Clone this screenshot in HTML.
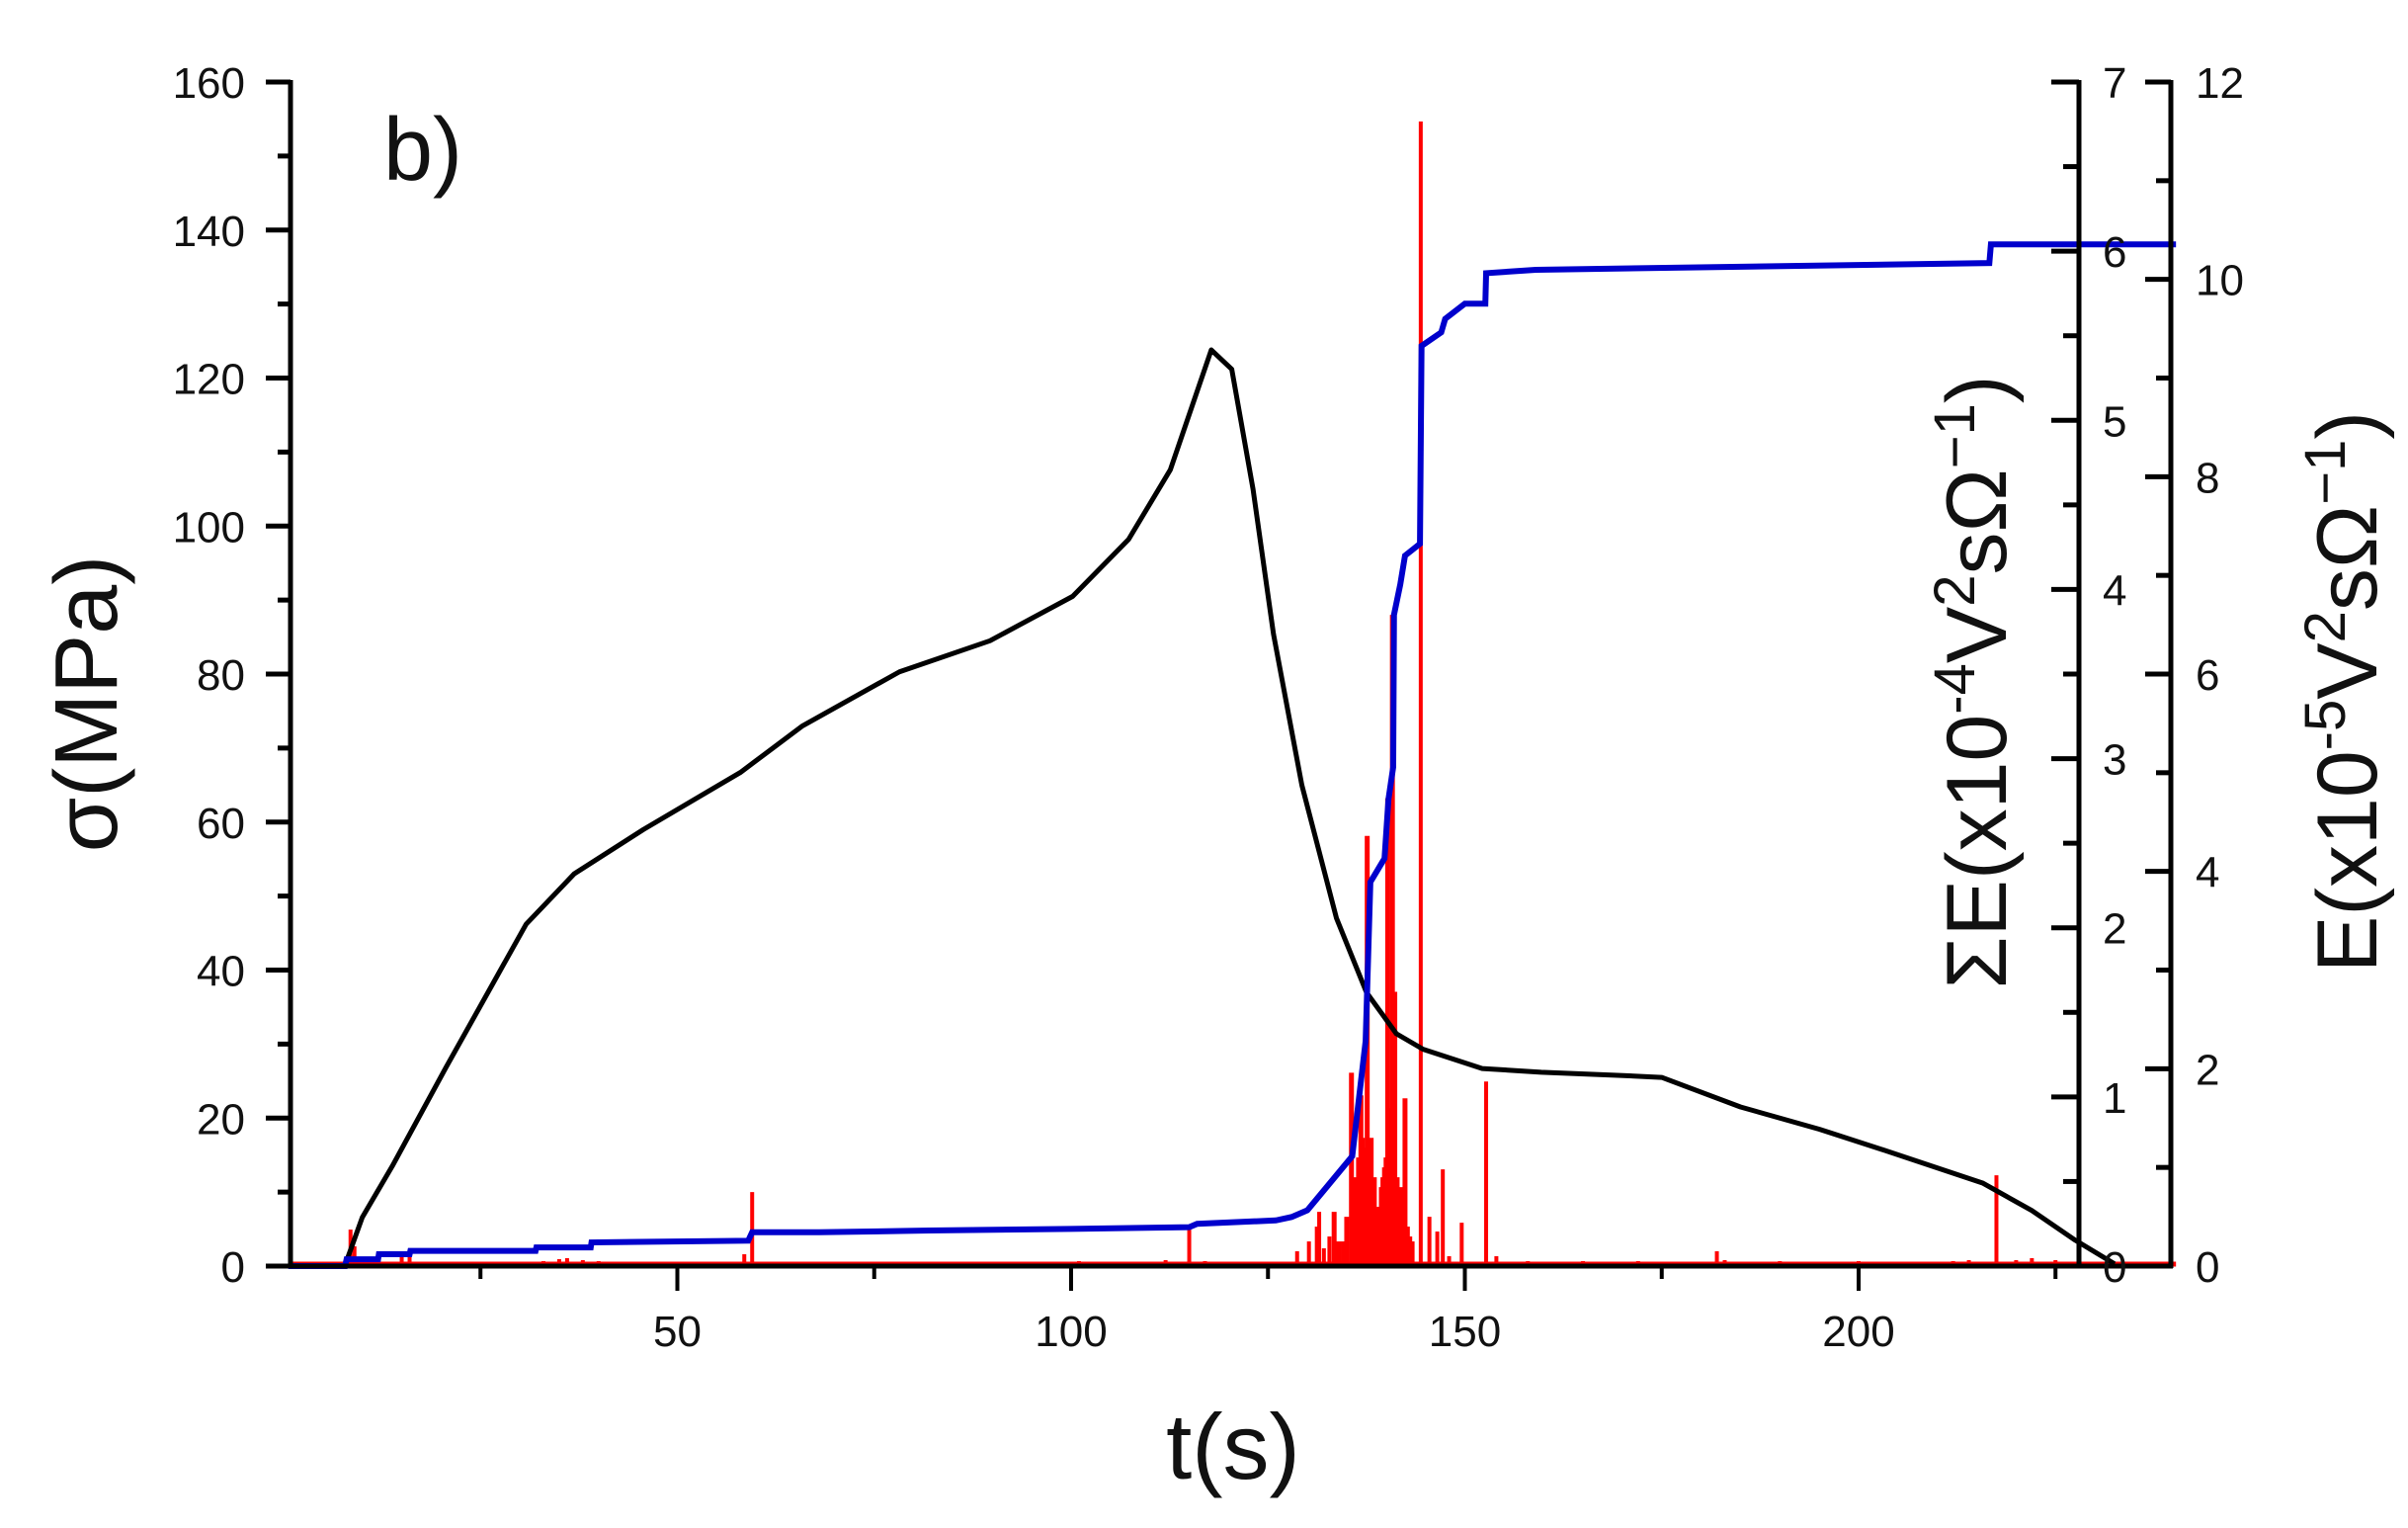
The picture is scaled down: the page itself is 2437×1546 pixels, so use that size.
<!DOCTYPE html>
<html><head><meta charset="utf-8">
<style>
html,body{margin:0;padding:0;background:#fff;}
svg{display:block;}
text{font-family:"Liberation Sans",Arial,sans-serif;fill:#111;}
</style></head>
<body>
<svg id="chart" width="2437" height="1546" viewBox="0 0 2437 1546" xmlns="http://www.w3.org/2000/svg">
<rect x="0" y="0" width="2437" height="1546" fill="#fff"/>
<g id="marks"></g>
<g id="axes"></g>
<text x="388" y="182" font-size="90">b)</text>
<text transform="translate(118,712) rotate(-90)" text-anchor="middle" font-size="90">σ(MPa)</text>
<text x="1248" y="1496" text-anchor="middle" font-size="94">t(s)</text>
<text transform="translate(2030,690) rotate(-90)" text-anchor="middle" font-size="86">ΣE(x10<tspan baseline-shift="super" font-size="58">-4</tspan>V<tspan baseline-shift="super" font-size="58">2</tspan>sΩ<tspan baseline-shift="super" font-size="58">−1</tspan>)</text>
<text transform="translate(2405,700) rotate(-90)" text-anchor="middle" font-size="86">E(x10<tspan baseline-shift="super" font-size="58">-5</tspan>V<tspan baseline-shift="super" font-size="58">2</tspan>sΩ<tspan baseline-shift="super" font-size="58">−1</tspan>)</text>
</svg>
<script>
// ---- data ----
var xTicks = [50, 100, 150, 200];
var xMinorTicks = [25, 75, 125, 175, 225];
var sigmaTicks = [0, 20, 40, 60, 80, 100, 120, 140, 160];
var sumETicks = [0, 1, 2, 3, 4, 5, 6, 7];
var eTicks = [0, 2, 4, 6, 8, 10, 12];
var stressT = [7.9,10,13.8,20.6,30.8,36.9,45.7,58,65.9,78.2,89.7,100.2,107.3,112.6,117.8,120.4,123.1,125.7,129.3,133.7,137.5,141.3,144.7,152.2,159.7,169,175,185,195,204,215.8,222,227.5,232.5];
var stressV = [0.4,6.6,13.5,26.8,46.2,53,59,66.7,73,80.3,84.5,90.5,98.2,107.6,123.8,121.2,105,85.4,65,47,37,31.4,29.3,26.7,26.2,25.8,25.5,21.5,18.5,15.4,11.2,7.5,3.5,0.3];
var sumT = [0.6,7.8,8,12,12.1,16,16.1,32,32.1,39,39.1,59,59.5,68,82,100,115,116,126,128,130,132.5,135.7,137.4,138,139.8,140.3,140.9,141,141.8,142.4,144.3,144.5,147,147.5,150,152.6,152.7,159,216.6,216.8,240.3];
var sumV = [0,0,0.04,0.04,0.07,0.07,0.09,0.09,0.11,0.11,0.14,0.15,0.2,0.2,0.21,0.22,0.23,0.25,0.27,0.29,0.33,0.47,0.65,1.33,2.27,2.41,2.76,2.95,3.85,4.03,4.2,4.27,5.44,5.52,5.6,5.69,5.69,5.87,5.89,5.93,6.04,6.04];
var spikeT = [8.5,9,15,16,33,35,36,38,40,58.5,59.5,62,66,70,80,90,95,101,112,115,117,128.7,130.2,131.2,131.5,132.1,132.8,133.4,134,134.6,135,135.6,135.9,136.2,136.5,136.8,137,137.2,137.6,137.9,138.1,138.3,138.5,138.8,139,139.2,139.4,139.6,139.8,140,140.2,140.4,140.6,140.8,141.1,141.4,141.7,141.9,142.2,142.4,142.7,143,143.3,144.4,145.5,146.5,147.2,148,149.6,152.7,154,158,165,172,182,183,190,200,212,214,217.5,220,222,225];
var spikeV = [0.37,0.2,0.12,0.1,0.05,0.07,0.08,0.06,0.05,0.12,0.75,0.04,0.04,0.04,0.04,0.04,0.04,0.05,0.06,0.37,0.05,0.15,0.25,0.4,0.55,0.18,0.3,0.55,0.25,0.25,0.5,1.96,0.9,0.8,1.1,1.73,1.3,1.2,4.36,1.0,1.3,0.7,0.9,0.6,0.5,0.6,0.8,0.9,1.0,1.1,4.74,1.4,1.6,6.6,2.78,0.9,0.7,0.8,0.5,1.7,0.4,0.3,0.25,11.6,0.5,0.35,0.98,0.1,0.44,1.87,0.1,0.05,0.05,0.05,0.15,0.06,0.05,0.05,0.05,0.06,0.92,0.06,0.08,0.06];

// ---- scales ----
var X0 = 287, XK = 7.97, YB = 1281, YT = 83;
function xs(t){ return X0 + XK*t; }
function ySig(v){ return YB - (YB-YT)*v/160; }
function ySum(v){ return YB - (YB-YT)*v/7; }
function yE(v){ return YB - (YB-YT)*v/12; }
var NS = 'http://www.w3.org/2000/svg';
var marks = document.getElementById('marks');
var axes = document.getElementById('axes');
function mk(tag, parent){ var e = document.createElementNS(NS, tag); parent.appendChild(e); return e; }

// red spikes
var base = mk('line', marks);


base.setAttribute('x1', xs(0.6)); base.setAttribute('x2', xs(240.3));
base.setAttribute('y1', yE(0)-2); base.setAttribute('y2', yE(0)-2);
base.setAttribute('stroke', '#ff0000'); base.setAttribute('stroke-width', 5);
for (var i=0;i<spikeT.length;i++){
  var l = mk('line', marks);
  
  
  l.setAttribute('x1', xs(spikeT[i])); l.setAttribute('x2', xs(spikeT[i]));
  l.setAttribute('y1', yE(0)); l.setAttribute('y2', yE(spikeV[i]));
  l.setAttribute('stroke', '#ff0000'); l.setAttribute('stroke-width', (spikeT[i]>133 && spikeT[i]<143.5) ? 5 : 4);
}
// stress curve
var p1 = mk('polyline', marks);


p1.setAttribute('points', stressT.map(function(t,i){return xs(t)+','+ySig(stressV[i]);}).join(' '));
p1.setAttribute('fill', 'none'); p1.setAttribute('stroke', '#000'); p1.setAttribute('stroke-width', 5); p1.setAttribute('stroke-linejoin', 'round');
// cumulative energy
var p2 = mk('polyline', marks);


p2.setAttribute('points', sumT.map(function(t,i){return xs(t)+','+ySum(sumV[i]);}).join(' '));
p2.setAttribute('fill', 'none'); p2.setAttribute('stroke', '#0000cc'); p2.setAttribute('stroke-width', 6);

// axes
function line(x1,y1,x2,y2,w,name){
  var l = mk('line', axes);
  
  
  l.setAttribute('x1',x1); l.setAttribute('y1',y1); l.setAttribute('x2',x2); l.setAttribute('y2',y2);
  l.setAttribute('stroke','#000'); l.setAttribute('stroke-width',w);
}
function label(x,y,txt,anchor,name){
  var t = mk('text', axes);
  
  
  t.setAttribute('x',x); t.setAttribute('y',y); t.setAttribute('text-anchor',anchor);
  t.setAttribute('font-size',44); t.textContent = txt;
}
var XL = 294, XS = 2104, XE = 2197;
line(XL, YT-2, XL, YB+2, 5, 'left-axis-line');
line(XS, YT-2, XS, YB+2, 5, 'cumulative-axis-line');
line(XE, YT-2, XE, YB+2, 5, 'energy-axis-line');
line(XL-2, YB, XE+2, YB, 5, 'x-axis-line');
sigmaTicks.forEach(function(v){
  line(XL-25, ySig(v), XL, ySig(v), 5, 'left-major-tick');
  label(248, ySig(v)+16, String(v), 'end', 'left-tick-label');
  if (v<160) line(XL-13, ySig(v+10), XL, ySig(v+10), 5, 'left-minor-tick');
});
sumETicks.forEach(function(v){
  line(XS-28, ySum(v), XS, ySum(v), 5, 'cumulative-major-tick');
  label(2128, ySum(v)+16, String(v), 'start', 'cumulative-tick-label');
  if (v<7) line(XS-16, ySum(v+0.5), XS, ySum(v+0.5), 5, 'cumulative-minor-tick');
});
eTicks.forEach(function(v){
  line(XE-26, yE(v), XE, yE(v), 5, 'energy-major-tick');
  label(2222, yE(v)+16, String(v), 'start', 'energy-tick-label');
  if (v<12) line(XE-15, yE(v+1), XE, yE(v+1), 5, 'energy-minor-tick');
});
xTicks.forEach(function(v){
  line(xs(v), YB, xs(v), YB+25, 4, 'x-major-tick');
  label(xs(v), 1362, String(v), 'middle', 'x-tick-label');
});
xMinorTicks.forEach(function(v){
  line(xs(v), YB, xs(v), YB+13, 4, 'x-minor-tick');
});
</script>
</body></html>
